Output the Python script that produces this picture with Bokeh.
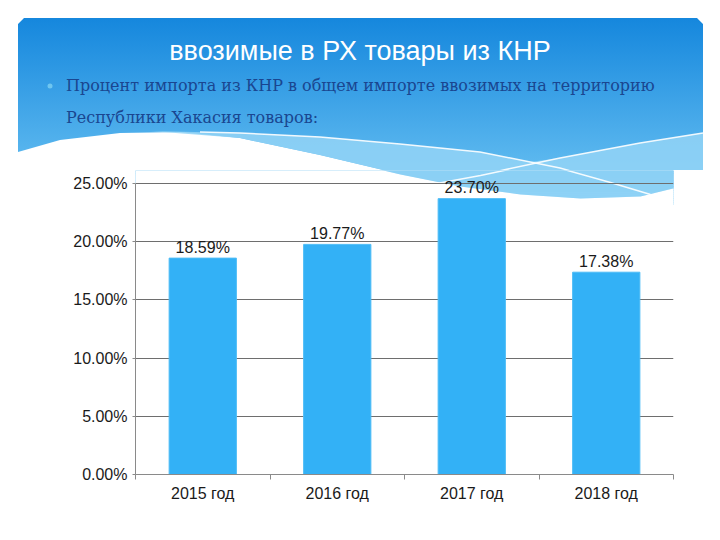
import numpy as np
from bokeh.plotting import figure
from bokeh.layouts import column
from bokeh.models import Range1d, FixedTicker, NumeralTickFormatter, Div
from bokeh.core.properties import value
from bokeh.embed import file_html
from bokeh.resources import INLINE

# ---- data ----
years = ["2015 год", "2016 год", "2017 год", "2018 год"]
shares = [0.1859, 0.1977, 0.2370, 0.1738]
share_labels = ["18.59%", "19.77%", "23.70%", "17.38%"]
y_ticks = [0.0, 0.05, 0.10, 0.15, 0.20, 0.25]

title_text = "ввозимые в РХ товары из КНР"
subtitle_lines = [
    "Процент импорта из КНР в общем импорте ввозимых на территорию",
    "Республики Хакасия товаров:",
]

# ---- header decoration outline (canvas pixel coordinates) ----
wave_bx = [18, 60, 120, 180, 240, 320, 400, 460, 520, 580, 640, 680, 703]
wave_by = [152, 140, 133, 132, 138, 155, 174, 186, 194, 198, 196, 186, 177]
light_tx = [150, 240, 320, 400, 480, 530, 560, 640, 703]
light_ty = [131, 133, 137, 144, 152, 162, 158, 143, 133]
line_u_x = [200, 240, 320, 400, 480, 560, 610, 650]
line_u_y = [132, 133, 137, 144, 152, 168, 182, 194]
line_l_x = [420, 480, 560, 640, 703]
line_l_y = [186, 175, 158, 143, 133]

G_TOP, G_BOT = 18.0, 204.0
C_TOP, C_BOT = "#1587dd", "#70c6f4"
HDR_H = 170
FRAME_L, FRAME_R, FRAME_T, FRAME_B, GRID_TOP = 135, 673, 170, 474, 183
CW, CH = 704, 524
BAND = "#93d3f6"


def hex_lerp(c1, c2, t):
    t = min(max(t, 0.0), 1.0)
    a = [int(c1[i:i + 2], 16) for i in (1, 3, 5)]
    b = [int(c2[i:i + 2], 16) for i in (1, 3, 5)]
    return "#%02x%02x%02x" % tuple(round(a[k] + (b[k] - a[k]) * t) for k in range(3))


def pts(xs, ys):
    return " ".join("%g,%g" % (x, y) for x, y in zip(xs, ys))


band_x = light_tx + wave_bx[::-1][:9]
band_y = light_ty + wave_by[::-1][:9]

SANS = "font-family:'Liberation Sans',Arial,sans-serif"
SERIF = "font-family:'DejaVu Serif',serif"

# ---- header (inline SVG in a Div) ----
panel_x = [18, 18, 24] + [697, 703] + wave_bx[::-1]
panel_y = [wave_by[0], 24, 18] + [18, 24] + wave_by[::-1]
svg = f'''<svg xmlns="http://www.w3.org/2000/svg" width="{CW}" height="{HDR_H}" style="display:block">
<defs><linearGradient id="hg" gradientUnits="userSpaceOnUse" x1="0" y1="{G_TOP}" x2="0" y2="{G_BOT}">
<stop offset="0" stop-color="{C_TOP}"/><stop offset="1" stop-color="{C_BOT}"/></linearGradient></defs>
<polygon points="{pts(panel_x, panel_y)}" fill="url(#hg)"/>
<polygon points="{pts(band_x, band_y)}" fill="{BAND}" fill-opacity="0.85"/>
<polyline points="{pts(line_u_x, line_u_y)}" fill="none" stroke="white" stroke-width="1.5" stroke-opacity="0.9"/>
<polyline points="{pts(line_l_x, line_l_y)}" fill="none" stroke="white" stroke-width="1.5" stroke-opacity="0.9"/>
<circle cx="50" cy="86" r="2.5" fill="#7dd0f2" fill-opacity="0.8"/>
<text x="360" y="60" text-anchor="middle" style="{SANS};font-size:27px;fill:#ffffff">{title_text}</text>
<text x="66" y="91" style="{SERIF};font-size:16px;fill:#1a4690">{subtitle_lines[0]}</text>
<text x="66" y="123" style="{SERIF};font-size:16px;fill:#1a4690">{subtitle_lines[1]}</text>
</svg>'''
hdr = Div(text=svg, width=CW, height=HDR_H, margin=(0, 0, 0, 0))

# ---- chart figure ----
y_end = 0.25 * (FRAME_B - FRAME_T) / (FRAME_B - GRID_TOP)
p = figure(width=CW, height=CH - HDR_H, x_range=Range1d(0, len(years)),
           y_range=Range1d(0, y_end), output_backend="svg", toolbar_location=None,
           min_border_left=FRAME_L, min_border_right=CW - FRAME_R,
           min_border_top=FRAME_T - HDR_H, min_border_bottom=CH - FRAME_B)
p.margin = (0, 0, 0, 0)
p.outline_line_color = None
p.extra_x_ranges = {"px": Range1d(FRAME_L, FRAME_R)}
p.extra_y_ranges = {"py": Range1d(FRAME_B, FRAME_T)}
R = dict(x_range_name="px", y_range_name="py", level="image")

# continuation of the header decoration inside the plot frame (under the grid)
fe = np.linspace(FRAME_T - 1, G_BOT, 18)
p.quad(left=18, right=703, top=list(fe[:-1]), bottom=list(fe[1:] + 0.6),
       fill_color=[hex_lerp(C_TOP, C_BOT, ((a + b) / 2 - G_TOP) / (G_BOT - G_TOP))
                   for a, b in zip(fe[:-1], fe[1:])],
       line_color=None, **R)
p.patch(band_x, band_y, fill_color=BAND, fill_alpha=0.85, line_color=None, **R)
p.patch(wave_bx + [703, 18], wave_by + [260, 260], fill_color="white", line_color=None, **R)
for lx, ly in ((line_u_x, line_u_y), (line_l_x, line_l_y)):
    p.line(lx, ly, line_color="white", line_width=1.5, line_alpha=0.9, **R)

centers = [i + 0.5 for i in range(len(years))]

p.xgrid.visible = False
p.ygrid.ticker = FixedTicker(ticks=y_ticks)
p.ygrid.grid_line_color = "#6e6e6e"
p.ygrid.grid_line_width = 1

p.yaxis.ticker = FixedTicker(ticks=y_ticks)
p.yaxis.formatter = NumeralTickFormatter(format="0.00%")
p.yaxis.bounds = (0, 0.25)
p.yaxis.axis_line_color = "#8a8a8a"
p.yaxis.major_tick_line_color = "#8a8a8a"
p.yaxis.major_tick_in = 0
p.yaxis.major_tick_out = 3
p.yaxis.minor_tick_line_color = None
p.yaxis.major_label_standoff = 5

p.xaxis.ticker = FixedTicker(ticks=centers, minor_ticks=list(range(len(years) + 1)))
p.xaxis.major_label_overrides = {c: y for c, y in zip(centers, years)}
p.xaxis.axis_line_color = "#8a8a8a"
p.xaxis.major_tick_line_color = None
p.xaxis.major_tick_in = 0
p.xaxis.major_tick_out = 0
p.xaxis.minor_tick_line_color = "#8a8a8a"
p.xaxis.minor_tick_in = 0
p.xaxis.minor_tick_out = 5
p.xaxis.major_label_standoff = 5

for ax in (p.xaxis, p.yaxis):
    ax.major_label_text_font = "Liberation Sans"
    ax.major_label_text_font_size = "16px"
    ax.major_label_text_color = "#1a1a1a"

p.vbar(x=centers, top=shares, width=0.5, fill_color="#33b1f6", line_color="#4dbcf6",
       line_width=1)
p.text(x=centers, y=shares, text=share_labels, y_offset=-11, text_align="center",
       text_baseline="middle", text_font=value("Liberation Sans"),
       text_font_size="16px", text_color="#1a1a1a")

layout = column(hdr, p, spacing=0)
with open("out.html", "w", encoding="utf-8") as f:
    f.write(file_html(layout, INLINE))
